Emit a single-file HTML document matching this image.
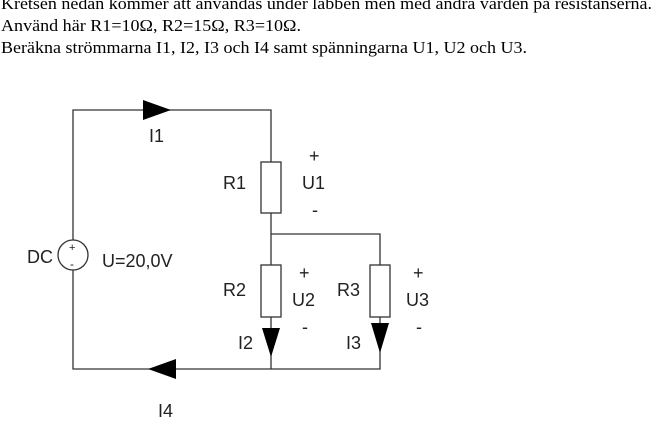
<!DOCTYPE html>
<html><head><meta charset="utf-8"><style>
html,body{margin:0;padding:0;background:#fff;width:655px;height:437px;overflow:hidden}
</style></head><body>
<svg width="655" height="437" viewBox="0 0 655 437" xmlns="http://www.w3.org/2000/svg">
<g font-family="Liberation Serif, serif" font-size="17" fill="#000">
<text x="1" y="9" textLength="651" lengthAdjust="spacingAndGlyphs">Kretsen nedan kommer att användas under labben men med andra värden på resistanserna.</text>
<text x="1" y="31" textLength="300" lengthAdjust="spacingAndGlyphs">Använd här R1=10Ω, R2=15Ω, R3=10Ω.</text>
<text x="1" y="53" textLength="526" lengthAdjust="spacingAndGlyphs">Beräkna strömmarna I1, I2, I3 och I4 samt spänningarna U1, U2 och U3.</text>
</g>
<g stroke="#333" stroke-width="1.3" fill="none">
<polyline points="73,240 73,110 271,110 271,162"/>
<polyline points="73,270 73,369 380,369 380,317"/>
<line x1="271" y1="213" x2="271" y2="265"/>
<polyline points="271,234 380,234 380,265"/>
<line x1="271" y1="317" x2="271" y2="369"/>
<rect x="261" y="162" width="20" height="51" fill="#fff"/>
<rect x="261" y="265" width="20" height="52" fill="#fff"/>
<rect x="370" y="265" width="20" height="52" fill="#fff"/>
<circle cx="73" cy="255" r="15" fill="#fff"/>
</g>
<g fill="#000">
<polygon points="143,100 171,110 143,120"/>
<polygon points="176,359 148,369 176,379"/>
<polygon points="262,328 280,328 271,357"/>
<polygon points="371,323 389,323 380,353"/>
</g>
<g font-family="Liberation Sans, Arial, sans-serif" font-size="18" fill="#222">
<text x="149" y="142">I1</text>
<text x="223" y="189">R1</text>
<text x="302" y="189">U1</text>
<text x="309" y="162" font-size="18">+</text>
<text x="312" y="216" font-size="18">-</text>
<text x="27" y="263">DC</text>
<text x="102" y="267">U=20,0V</text>
<text x="223" y="296">R2</text>
<text x="292" y="306">U2</text>
<text x="299" y="279" font-size="18">+</text>
<text x="302" y="333" font-size="18">-</text>
<text x="337" y="296">R3</text>
<text x="406" y="306">U3</text>
<text x="413" y="279" font-size="18">+</text>
<text x="416" y="333" font-size="18">-</text>
<text x="238" y="349">I2</text>
<text x="346" y="349">I3</text>
<text x="158" y="417">I4</text>
<text x="69" y="251" font-size="11">+</text>
<text x="70" y="268" font-size="12">-</text>
</g>
</svg>
</body></html>
